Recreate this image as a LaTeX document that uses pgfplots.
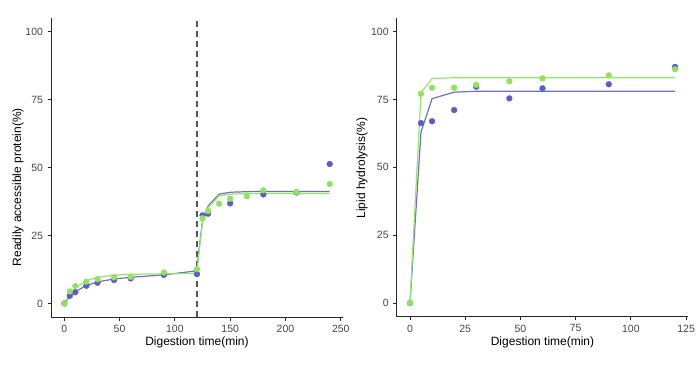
\documentclass[border=0pt]{standalone}
\usepackage{pgfplots}
\pgfplotsset{compat=1.18}
\usepackage{fontspec}
\setmainfont{Liberation Sans}
\definecolor{gpt}{RGB}{145,226,95}
\definecolor{bpt}{RGB}{92,92,200}
\definecolor{gln}{RGB}{150,228,110}
\definecolor{bln}{RGB}{112,112,192}
\definecolor{axc}{RGB}{40,40,40}
\definecolor{tkc}{RGB}{70,70,70}
\definecolor{dsh}{RGB}{85,85,85}
\pgfplotsset{
  ggstyle/.style={
    scale only axis,
    anchor=south west,
    axis x line*=bottom, axis y line*=left,
    axis line style={-, draw=axc, line width=0.9pt},
    tick align=outside,
    major tick length=3.5pt,
    tick style={draw=axc, line width=0.8pt},
    ymin=-5, ymax=105,
    ytick={0,25,50,75,100},
    ticklabel style={font=\fontsize{10.5}{12}\selectfont, text=tkc},
    /pgf/number format/assume math mode=true,
    xticklabel style={yshift=-1pt},
    yticklabel style={xshift=-1pt},
    clip=false,
  },
  gpts/.style={only marks, mark=*, mark size=2.9pt, color=gpt, mark options={draw=none, fill=gpt}},
  bpts/.style={only marks, mark=*, mark size=2.9pt, color=bpt, mark options={draw=none, fill=bpt}},
  glin/.style={no marks, draw=gln, line width=1.2pt},
  blin/.style={no marks, draw=bln, line width=1.2pt},
}
\begin{document}
\begin{tikzpicture}
\useasboundingbox (0pt,0pt) rectangle (700pt,364pt);
% ---------------- left panel ----------------
\begin{axis}[ggstyle, at={(51pt,47pt)}, width=292pt, height=299pt,
  xmin=-12, xmax=252, xtick={0,50,100,150,200,250}]
\draw[draw=dsh, line width=1.1pt, dash pattern=on 6pt off 4pt] (axis cs:120,-5) -- (axis cs:120,105);
\addplot[bpts] coordinates {
(0,0) (5,2.8) (10,4.1) (20,6.5) (30,7.6) (45,8.6) (60,9.2) (90,10.5) (120,10.8)
(125,32.4) (130,33.0) (150,36.8) (180,40.1) (210,40.8) (240,51.3)};
\addplot[gpts] coordinates {
(0,0) (5,4.4) (10,6.4) (20,8.0) (30,8.9) (45,9.6) (60,9.8) (90,11.4) (120,12.6)
(125,31.3) (130,34.0) (140,36.7) (150,38.5) (165,39.4) (180,41.6) (210,41.0) (240,43.9)};
\addplot[blin] coordinates {
(0,0) (5,2.6) (10,4.3) (20,6.6) (30,7.9) (45,9.0) (60,9.6) (90,10.5) (120,12.0)
(121,17.0) (125,30.5) (130,35.8) (140,40.2) (150,40.9) (165,41.1) (180,41.2) (210,41.2) (240,41.2)};
\addplot[glin] coordinates {
(0,0) (5,3.4) (10,5.6) (20,8.3) (30,9.6) (45,10.4) (60,10.7) (90,10.9) (120,11.0)
(121,16.0) (125,30.0) (130,35.2) (140,39.6) (150,40.2) (165,40.4) (180,40.4) (210,40.4) (240,40.4)};
\end{axis}
% ---------------- right panel ----------------
\begin{axis}[ggstyle, at={(396.7pt,47.3pt)}, width=291.6pt, height=298.7pt,
  xmin=-6, xmax=126, xtick={0,25,50,75,100,125}]
\addplot[bpts] coordinates {
(0,0) (5,66.3) (10,67.0) (20,71.1) (30,79.7) (45,75.4) (60,79.1) (90,80.6) (120,87.0)};
\addplot[gpts] coordinates {
(0,0) (5,77.1) (10,79.3) (20,79.3) (30,80.4) (45,81.7) (60,82.8) (90,83.9) (120,86.1)};
\addplot[blin] coordinates {
(0,0) (5,63.0) (10,75.3) (20,77.7) (30,78.0) (45,78.0) (60,78.0) (90,78.0) (120,78.0)};
\addplot[glin] coordinates {
(0,0) (5,77.5) (10,82.7) (20,83.0) (30,83.0) (45,83.0) (60,83.0) (90,83.0) (120,83.0)};
\end{axis}
% ---------------- axis titles ----------------
\node[font=\fontsize{12}{14}\selectfont, text=black] at (197pt,22pt) {Digestion time(min)};
\node[font=\fontsize{12}{14}\selectfont, text=black] at (542.5pt,22pt) {Digestion time(min)};
\node[font=\fontsize{12}{14}\selectfont, text=black, rotate=90] at (18pt,177pt) {Readily accessible protein(\%)};
\node[font=\fontsize{12}{14}\selectfont, text=black, rotate=90] at (362pt,196pt) {Lipid hydrolysis(\%)};
\end{tikzpicture}
\end{document}
